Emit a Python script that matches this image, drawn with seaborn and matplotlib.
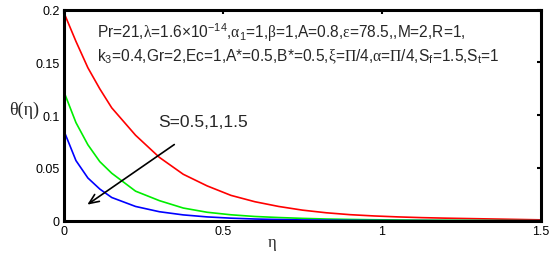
import numpy as np
import pandas as pd
import matplotlib
matplotlib.use("Agg")
import matplotlib.pyplot as plt
import seaborn as sns

# eta grid and theta profiles (one per S value)
eta = [0, 0.0375, 0.075, 0.1125, 0.15, 0.225, 0.3, 0.375, 0.45, 0.525, 0.6, 0.675, 0.75,
       0.825, 0.9, 0.975, 1.05, 1.125, 1.2, 1.275, 1.35, 1.425, 1.5]
theta_s05 = [0.197, 0.170, 0.145, 0.125, 0.107, 0.081, 0.060, 0.044, 0.033, 0.024, 0.018,
             0.0135, 0.010, 0.0075, 0.0057, 0.0045, 0.0036, 0.0029, 0.0024, 0.0020, 0.0016,
             0.0012, 0.0008]
theta_s1 = [0.122, 0.093, 0.072, 0.056, 0.045, 0.028, 0.019, 0.012, 0.0080, 0.0056, 0.0040,
            0.0030, 0.0022, 0.0016, 0.0012, 0.0009, 0.0007, 0.0005, 0.0004, 0.0003, 0.0002,
            0.0001, 0.0]
theta_s15 = [0.085, 0.057, 0.0405, 0.030, 0.022, 0.0135, 0.0085, 0.0055, 0.0036, 0.0024,
             0.0016, 0.0011, 0.0007, 0.0005, 0.0003, 0.0002, 0.0001, 0.0001, 0.0, 0.0, 0.0,
             0.0, 0.0]
s_values = ["0.5", "1", "1.5"]
colors = ["#ff0000", "#00ee00", "#0000ff"]

xticks = [0, 0.5, 1, 1.5]
xtick_labels = ["0", "0.5", "1", "1.5"]
yticks = [0, 0.05, 0.1, 0.15, 0.2]
ytick_labels = ["0", "0.05", "0.1", "0.15", "0.2"]

df = pd.DataFrame({
    "eta": eta * 3,
    "theta": theta_s05 + theta_s1 + theta_s15,
    "S": [s for s in s_values for _ in eta],
})

sns.set_style("white")
plt.rcParams["font.family"] = ["Liberation Sans", "DejaVu Sans"]
plt.rcParams["mathtext.fontset"] = "custom"
plt.rcParams["mathtext.rm"] = "Liberation Sans"
plt.rcParams["mathtext.sf"] = "Liberation Serif"
plt.rcParams["mathtext.default"] = "regular"

fig = plt.figure(figsize=(5.5, 2.55), dpi=100)
ax = fig.add_axes([0.1164, 0.1306, 0.8672, 0.8274])

sns.lineplot(data=df, x="eta", y="theta", hue="S", palette=colors,
             linewidth=1.2, legend=False, ax=ax)

ax.set_xlim(0, 1.5)
ax.set_ylim(0, 0.2)
ax.set_xticks(xticks)
ax.set_xticklabels(xtick_labels)
ax.set_yticks(yticks)
ax.set_yticklabels(ytick_labels)
ax.tick_params(direction="in", length=3, width=1.5, labelsize=9,
               top=True, right=True, pad=3, colors="k")

for sp in ax.spines.values():
    sp.set_linewidth(2.2)
    sp.set_color("k")

ax.set_xlabel("η", fontsize=12, family="Liberation Serif", va="center")
ax.xaxis.set_label_coords(0.437, -0.10)
ax.set_ylabel("θ(η)", fontsize=13, family="Liberation Serif", rotation=0,
              ha="center", va="center")
ax.yaxis.set_label_coords(-0.084, 0.53)

line1 = (r"Pr=21,$\mathsf{\lambda}$=1.6$\times$10$^{-14}$,$\mathsf{\alpha}_1$=1,"
         r"$\mathsf{\beta}$=1,A=0.8,$\mathsf{\varepsilon}$=78.5,,M=2,R=1,")
line2 = (r"k$_3$=0.4,Gr=2,Ec=1,A*=0.5,B*=0.5,$\mathsf{\xi}$=$\mathsf{\Pi}$/4,"
         r"$\mathsf{\alpha}$=$\mathsf{\Pi}$/4,S$_f$=1.5,S$_t$=1")
ax.text(0.104, 0.174, line1, fontsize=11.2, va="baseline", ha="left")
ax.text(0.104, 0.152, line2, fontsize=11.2, va="baseline", ha="left")

ax.text(0.296, 0.0898, "S=0.5,1,1.5", fontsize=12.5, va="baseline", ha="left")
ax.annotate("", xy=(0.066, 0.0137), xytext=(0.354, 0.0737),
            arrowprops=dict(arrowstyle="->,head_length=0.7,head_width=0.3",
                            color="k", lw=1.2))

fig.savefig("out.png", dpi=100)
